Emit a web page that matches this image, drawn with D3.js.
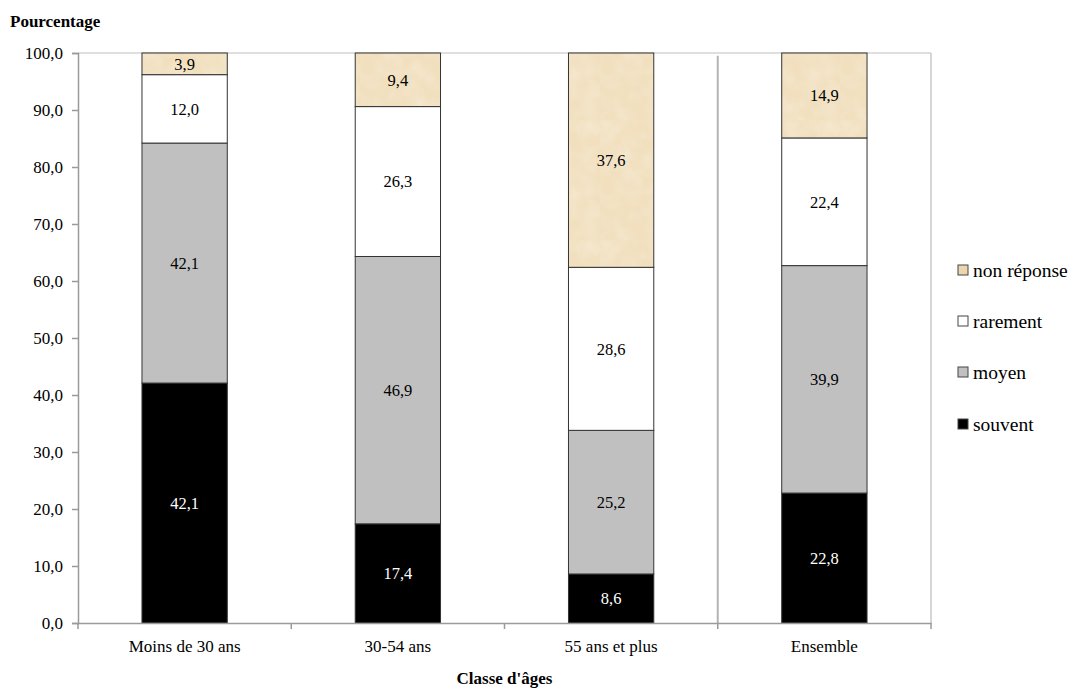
<!DOCTYPE html>
<html><head><meta charset="utf-8">
<script src="https://cdn.jsdelivr.net/npm/d3@7/dist/d3.min.js"></script>
<style>body{margin:0;background:#fff}svg{display:block}</style>
</head><body>
<svg id="c" width="1076" height="689"></svg>
<script>
const categories = ["Moins de 30 ans", "30-54 ans", "55 ans et plus", "Ensemble"];
const seriesNames = ["souvent", "moyen", "rarement", "non réponse"];
const souvent = [42.1, 17.4, 8.6, 22.8];
const moyen = [42.1, 46.9, 25.2, 39.9];
const rarement = [12.0, 26.3, 28.6, 22.4];
const nonReponse = [3.9, 9.4, 37.6, 14.9];
const yTicks = [0, 10, 20, 30, 40, 50, 60, 70, 80, 90, 100];
const colors = {"souvent": "#000000", "moyen": "#c0c0c0", "rarement": "#ffffff", "non réponse": "url(#paper)"};
const legendColors = {"souvent": "#000000", "moyen": "#c0c0c0", "rarement": "#ffffff", "non réponse": "#ecd6b0"};
const SERIF = 'font-family:"Liberation Serif","Times New Roman",Times,serif;';

const svg = d3.select("#c");
const defs = svg.append("defs");
const pat = defs.append("pattern").attr("id","paper").attr("patternUnits","userSpaceOnUse").attr("width",120).attr("height",120);
const filt = defs.append("filter").attr("id","noise").attr("x",0).attr("y",0).attr("width","100%").attr("height","100%");
filt.append("feTurbulence").attr("type","fractalNoise").attr("baseFrequency",0.06).attr("numOctaves",3).attr("seed",4).attr("result","n");
filt.append("feColorMatrix").attr("in","n").attr("type","matrix")
  .attr("values","0 0 0 0 0.93  0 0 0 0 0.84  0 0 0 0 0.69  0 0 0 -1.1 0.75");
pat.append("rect").attr("width",120).attr("height",120).attr("fill","#f1dfbd");
pat.append("rect").attr("width",120).attr("height",120).attr("filter","url(#noise)");

const x0 = 78, x1 = 931, yTop = 53, yBot = 623;
const x = d3.scaleBand().domain(categories).range([x0, x1]).paddingInner(0.6).paddingOuter(0.3);
const xb = d3.scaleBand().domain(categories).range([x0, x1]);
const y = d3.scaleLinear().domain([0, 100]).range([yBot, yTop]);
const fmt = v => v.toFixed(1).replace(".", ",");

// frame: top and right border
svg.append("line").attr("x1",x0).attr("x2",x1).attr("y1",y(100)).attr("y2",y(100)).attr("stroke","#d4d4d4").attr("stroke-width",1.5);
svg.append("line").attr("x1",x1).attr("x2",x1).attr("y1",y(100)).attr("y2",yBot).attr("stroke","#c8c8c8").attr("stroke-width",1.5);
// separator before Ensemble
svg.append("line").attr("x1",xb("Ensemble")).attr("x2",xb("Ensemble")).attr("y1",y(99.5)).attr("y2",yBot).attr("stroke","#b4b4b4").attr("stroke-width",2);

const rows = categories.map((c,i)=>({cat:c, "souvent":souvent[i], "moyen":moyen[i], "rarement":rarement[i], "non réponse":nonReponse[i]}));
const stacked = d3.stack().keys(seriesNames)(rows);

const g = svg.append("g");
stacked.forEach(layer => {
  const key = layer.key;
  layer.forEach(d => {
    const top = Math.min(d[1], 100);
    g.append("rect")
      .attr("x", x(d.data.cat)).attr("width", x.bandwidth())
      .attr("y", y(top)).attr("height", y(d[0]) - y(top))
      .attr("fill", colors[key]).attr("stroke", "#333").attr("stroke-width", 1);
  });
});
stacked.forEach(layer => {
  const key = layer.key;
  layer.forEach(d => {
    const top = Math.min(d[1], 100);
    g.append("text")
      .attr("x", x(d.data.cat) + x.bandwidth()/2)
      .attr("y", (y(d[0]) + y(top))/2)
      .attr("dy", "0.35em").attr("text-anchor","middle")
      .attr("style", SERIF + "font-size:16.5px")
      .attr("fill", key === "souvent" ? "#fff" : "#000")
      .text(fmt(d[1]-d[0]));
  });
});

// y axis
const yAxis = d3.axisLeft(y).tickValues(yTicks).tickFormat(fmt).tickSize(6).tickPadding(9);
const ya = svg.append("g").attr("transform",`translate(${x0},0)`).call(yAxis);
ya.select(".domain").attr("stroke","#9a9a9a").attr("stroke-width",1.5);
ya.selectAll(".tick line").attr("stroke","#9a9a9a").attr("stroke-width",1.5);
ya.selectAll("text").attr("style", SERIF + "font-size:17px").attr("fill","#000");

// x axis
const xAxis = d3.axisBottom(xb).tickSize(0).tickPadding(17);
const xa = svg.append("g").attr("transform",`translate(0,${yBot})`).call(xAxis);
xa.select(".domain").attr("stroke","#9a9a9a").attr("stroke-width",1.5);
xa.selectAll("text").attr("style", SERIF + "font-size:17px").attr("fill","#000");
const bounds = categories.map(c => xb(c)).concat([x1]);
xa.selectAll(".bt").data(bounds).enter().append("line").attr("class","bt")
  .attr("x1",d=>d).attr("x2",d=>d).attr("y1",0).attr("y2",6).attr("stroke","#9a9a9a").attr("stroke-width",1.5);

// titles
svg.append("text").attr("x",10).attr("y",27).attr("style", SERIF + "font-size:17px;font-weight:bold").text("Pourcentage");
svg.append("text").attr("x",(x0+x1)/2).attr("y",684).attr("text-anchor","middle").attr("style", SERIF + "font-size:17px;font-weight:bold").text("Classe d'âges");

// legend
const legOrder = ["non réponse", "rarement", "moyen", "souvent"];
const legY = [270, 321, 372, 424];
const leg = svg.append("g");
legOrder.forEach((k,i) => {
  leg.append("rect").attr("x",958).attr("y",legY[i]-5).attr("width",10).attr("height",10)
    .attr("fill",legendColors[k]).attr("stroke","#444").attr("stroke-width",1);
  leg.append("text").attr("x",973).attr("y",legY[i]).attr("dy","0.35em").attr("style", SERIF + "font-size:19.5px").text(k);
});
</script>
</body></html>
